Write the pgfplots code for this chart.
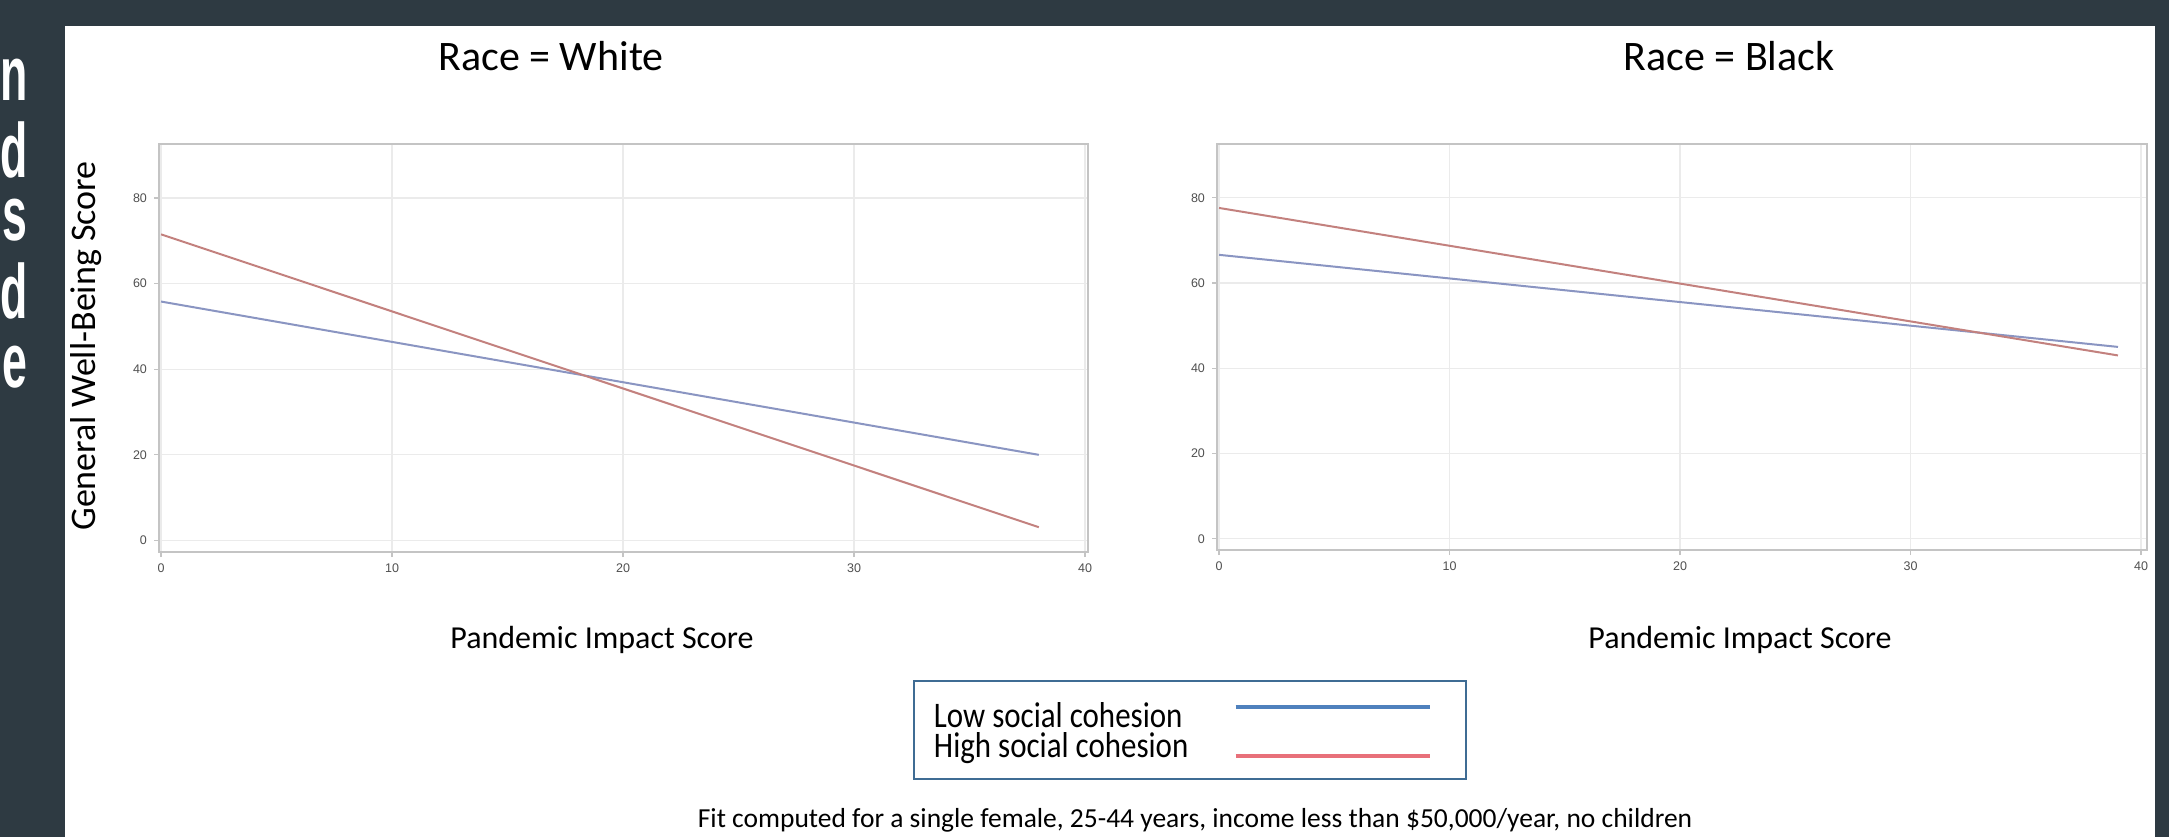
\documentclass[border=0pt]{standalone}
\usepackage{fontspec}
\setmainfont{Carlito}
\newfontfamily\legfont{Carlito}[FakeStretch=0.86]
\newfontfamily\tickfont{Liberation Sans}
\newfontfamily\slidefont{Liberation Sans Bold}[FakeStretch=0.58]
\usepackage{pgfplots}
\pgfplotsset{compat=1.18}
\definecolor{bgdark}{HTML}{2E3A42}
\definecolor{axisgray}{HTML}{C4C4C4}
\definecolor{gridgray}{HTML}{EBEBEB}
\definecolor{tickgray}{HTML}{505050}
\definecolor{lowline}{HTML}{8A95C2}
\definecolor{highline}{HTML}{C3817E}
\definecolor{leglow}{HTML}{4F81BD}
\definecolor{leghigh}{HTML}{E8707A}
\definecolor{legframe}{HTML}{3F6C94}
\pgfplotsset{
  panel/.style={
    scale only axis,
    xmin=-0.09, ymin=-2.7, ymax=92.6,
    axis line style={draw=axisgray, line width=0.8pt},
    grid=major,
    major grid style={draw=gridgray, line width=0.6pt},
    tick style={draw=axisgray, line width=0.6pt},
    tick align=outside,
    major tick length=2.5pt,
    xtick pos=bottom, ytick pos=left,
    xtick={0,10,20,30,40}, ytick={0,20,40,60,80},
    ticklabel style={font=\tickfont\fontsize{6.25}{7}\selectfont, text=tickgray},
    /pgf/number format/assume math mode=true,
  },
  legA/.style={legend image code/.code={\draw[leglow, line width=2pt] (0pt,4.2pt) -- (97pt,4.2pt); \path (104.5pt,0pt);}},
  legB/.style={legend image code/.code={\draw[leghigh, line width=2pt] (0pt,-5.5pt) -- (97pt,-5.5pt); \path (104.5pt,0pt);}},
}
\begin{document}
\begin{tikzpicture}
\fill[bgdark] (0,0) rectangle (1084.5pt,-418.5pt);
\fill[white] (32.5pt,-13pt) rectangle (1077.5pt,-418.5pt);
\begin{scope}
\clip (0,0) rectangle (32.5pt,-418.5pt);
\foreach \l/\yy in {n/50,d/88.5,s/120,d/159,e/193.5}
  \node[anchor=base east, inner sep=0pt, text=white, font=\slidefont\fontsize{38.5}{40}\selectfont] at (14pt,-\yy pt) {\l};
\end{scope}

\begin{axis}[panel, at={(79.5pt,-276pt)}, anchor=south west, width=464.5pt, height=204pt, xmax=40.13,
  legend plot pos=right,
  legend style={at={(0.8116,-0.3137)}, anchor=north west, draw=legframe, line width=1pt, fill=white,
    font=\legfont\fontsize{18}{15}\selectfont, inner xsep=10pt, inner ysep=9.5pt,
    row sep=0pt, column sep=22.6pt, cells={anchor=west},
    nodes={inner sep=0pt, text height=13.5pt, text depth=1.5pt}},
]
\addplot[lowline, line width=1pt, forget plot] coordinates {(0,55.8) (38,20.0)};
\addplot[highline, line width=1pt, forget plot] coordinates {(0,71.5) (38,3.1)};
\addlegendimage{legA}
\addlegendentry{Low social cohesion}
\addlegendimage{legB}
\addlegendentry{High social cohesion}
\end{axis}

\begin{axis}[panel, at={(608.5pt,-275pt)}, anchor=south west, width=465pt, height=203pt, xmax=40.26, ymin=-2.65]
\addplot[lowline, line width=1pt] coordinates {(0,66.6) (39,45.0)};
\addplot[highline, line width=1pt] coordinates {(0,77.6) (39,43.0)};
\end{axis}

\node[anchor=base, inner sep=0pt, font=\fontsize{21}{25}\selectfont] at (275.5pt,-35pt) {Race = White};
\node[anchor=base, inner sep=0pt, font=\fontsize{21}{25}\selectfont] at (864.5pt,-35pt) {Race = Black};
\node[anchor=base, inner sep=0pt, font=\fontsize{16}{19}\selectfont] at (301pt,-324pt) {Pandemic Impact Score};
\node[anchor=base, inner sep=0pt, font=\fontsize{16}{19}\selectfont] at (870pt,-324pt) {Pandemic Impact Score};
\node[rotate=90, anchor=center, inner sep=0pt, font=\fontsize{18}{21}\selectfont] at (43pt,-173pt) {General Well-Being Score};
\node[anchor=base, inner sep=0pt, font=\fontsize{13.75}{15}\selectfont] at (597.5pt,-413.5pt) {Fit computed for a single female, 25-44 years, income less than \$50,000/year, no children};
\pgfresetboundingbox
\useasboundingbox (0,0) rectangle (1084.5pt,-418.5pt);
\end{tikzpicture}
\end{document}
